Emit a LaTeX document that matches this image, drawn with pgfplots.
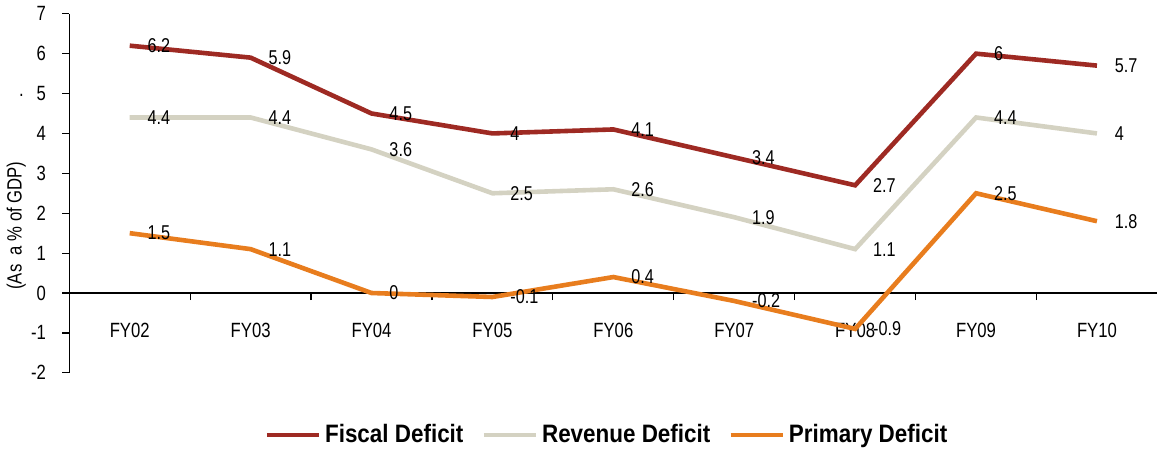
\documentclass[border=0pt]{standalone}
\usepackage{fontspec}
\setmainfont{Liberation Sans}[FakeStretch=0.81]
\newfontfamily\legfont{Liberation Sans}[FakeStretch=0.89]
\usepackage{pgfplots}
\pgfplotsset{compat=1.18}
\definecolor{fiscal}{RGB}{158,42,35}
\definecolor{revenue}{RGB}{212,210,194}
\definecolor{primary}{RGB}{232,125,30}
\begin{document}
\begin{tikzpicture}
\begin{axis}[
    scale only axis,
    width=544pt, height=179.5pt,
    xmin=-0.5, xmax=8.5,
    ymin=-2, ymax=7,
    axis y line*=left,
    axis x line*=middle,
    xtick={0,...,8},
    xticklabels={FY02,FY03,FY04,FY05,FY06,FY07,FY08,FY09,FY10},
    major x tick style={draw=none},
    minor xtick={0.5,1.5,...,7.5},
    minor tick length=3.6pt,
    xtick align=outside,
    ytick={-2,...,7},
    ytick align=outside,
    major tick length=3.6pt,
    tick style={black, line width=0.6pt},
    axis line style={black, line width=0.6pt},
    xticklabel style={font=\fontsize{10.3}{12}\selectfont, yshift=-8pt},
    yticklabel style={font=\fontsize{10.3}{12}\selectfont, xshift=-4.5pt},
    /pgf/number format/assume math mode=true,
    ylabel={(As~~a \% of GDP)},
    ylabel style={font=\fontsize{10.3}{12}\selectfont, at={(axis description cs:-0.0487,0.41)}, anchor=center},
    clip=false,
    nodes near coords,
    every node near coord/.append style={font=\fontsize{10}{12}\selectfont, anchor=west, xshift=4.5pt, text=black},
    legend columns=3,
    legend style={draw=none, at={(axis description cs:0.495,-0.173)}, anchor=center,
        font=\legfont\bfseries\fontsize{12.6}{14}\selectfont,
        /tikz/every even column/.append style={column sep=7pt}},
    legend image code/.code={\draw[#1] (0pt,0pt) -- (26pt,0pt);},
]
\addplot[fiscal, line width=2.3pt, mark=none] coordinates {
 (0,6.2) (1,5.9) (2,4.5) (3,4) (4,4.1) (5,3.4) (6,2.7) (7,6) (8,5.7)};
\addlegendentry{Fiscal Deficit}
\addplot[revenue, line width=2.3pt, mark=none] coordinates {
 (0,4.4) (1,4.4) (2,3.6) (3,2.5) (4,2.6) (5,1.9) (6,1.1) (7,4.4) (8,4)};
\addlegendentry{Revenue Deficit}
\addplot[primary, line width=2.3pt, mark=none] coordinates {
 (0,1.5) (1,1.1) (2,0) (3,-0.1) (4,0.4) (5,-0.2) (6,-0.9) (7,2.5) (8,1.8)};
\addlegendentry{Primary Deficit}
\node[font=\fontsize{10.3}{12}\selectfont] at (axis description cs:-0.044,0.774) {.};
\end{axis}
\end{tikzpicture}
\end{document}
